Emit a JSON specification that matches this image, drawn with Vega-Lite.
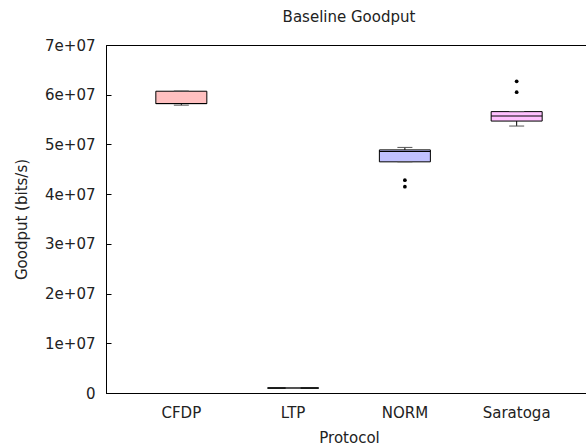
{
  "$schema": "https://vega.github.io/schema/vega-lite/v6.json",
  "width": 486,
  "height": 348,
  "autosize": "none",
  "padding": {"left": 106, "top": 45, "right": 0, "bottom": 54},
  "background": "white",
  "title": {"text": "Baseline Goodput", "font": "DejaVu Sans", "fontSize": 15, "fontWeight": "normal", "color": "#222", "anchor": "middle", "offset": 13},
  "config": {
    "font": "DejaVu Sans",
    "view": {"stroke": "#000", "strokeWidth": 1},
    "axis": {"grid": false, "domainColor": "#000", "tickColor": "#000", "labelColor": "#222", "titleColor": "#222", "labelFont": "DejaVu Sans", "titleFont": "DejaVu Sans", "labelFontSize": 15, "titleFontSize": 15, "titleFontWeight": "normal"}
  },
  "datasets": {
    "boxes": [
      {"protocol": "CFDP", "lower": 57900000, "q1": 58200000, "median": 58250000, "q3": 60700000, "upper": 60750000},
      {"protocol": "LTP", "lower": 900000, "q1": 980000, "median": 1000000, "q3": 1020000, "upper": 1100000},
      {"protocol": "NORM", "lower": 46500000, "q1": 46500000, "median": 48600000, "q3": 48900000, "upper": 49400000},
      {"protocol": "Saratoga", "lower": 53700000, "q1": 54700000, "median": 55700000, "q3": 56600000, "upper": 56600000}
    ],
    "outliers": [
      {"protocol": "NORM", "value": 42800000},
      {"protocol": "NORM", "value": 41500000},
      {"protocol": "Saratoga", "value": 62700000},
      {"protocol": "Saratoga", "value": 60500000}
    ]
  },
  "data": {"name": "boxes"},
  "encoding": {
    "x": {
      "field": "protocol", "type": "nominal", "sort": ["CFDP", "LTP", "NORM", "Saratoga"],
      "scale": {"type": "band", "domain": ["CFDP", "LTP", "NORM", "Saratoga"], "paddingInner": 0, "paddingOuter": 0.174},
      "axis": {"title": "Protocol", "labelAngle": 0, "ticks": false, "labelPadding": 12, "titlePadding": 10, "domain": true}
    }
  },
  "layer": [
    {
      "mark": {"type": "rule", "color": "#000", "strokeWidth": 1},
      "encoding": {
        "y": {"field": "lower", "type": "quantitative", "scale": {"domain": [0, 70000000], "nice": false},
          "axis": {"title": "Goodput (bits/s)", "values": [0, 10000000, 20000000, 30000000, 40000000, 50000000, 60000000, 70000000],
            "labelExpr": "datum.value == 0 ? '0' : replace(format(datum.value, '.0e'), 'e+', 'e+0')",
            "tickSize": -5, "labelPadding": 16, "titlePadding": 15}},
        "y2": {"field": "q1"}
      }
    },
    {
      "mark": {"type": "rule", "color": "#000", "strokeWidth": 1},
      "encoding": {
        "y": {"field": "q3", "type": "quantitative"},
        "y2": {"field": "upper"}
      }
    },
    {
      "mark": {"type": "bar", "size": 51, "stroke": "#000", "strokeWidth": 1, "opacity": 1},
      "encoding": {
        "y": {"field": "q1", "type": "quantitative"},
        "y2": {"field": "q3"},
        "color": {"field": "protocol", "type": "nominal", "legend": null,
          "scale": {"domain": ["CFDP", "LTP", "NORM", "Saratoga"], "range": ["#ffc0c0", "#c0ffc0", "#c0c0ff", "#ffc0ff"]}}
      }
    },
    {
      "mark": {"type": "tick", "size": 51, "thickness": 1, "color": "#000", "opacity": 1},
      "encoding": {"y": {"field": "median", "type": "quantitative"}}
    },
    {
      "mark": {"type": "tick", "size": 15, "thickness": 1, "color": "#555", "opacity": 1},
      "encoding": {"y": {"field": "lower", "type": "quantitative"}}
    },
    {
      "mark": {"type": "tick", "size": 15, "thickness": 1, "color": "#555", "opacity": 1},
      "encoding": {"y": {"field": "upper", "type": "quantitative"}}
    },
    {
      "data": {"name": "outliers"},
      "mark": {"type": "point", "filled": true, "color": "#000", "size": 14, "opacity": 1},
      "encoding": {
        "x": {"field": "protocol", "type": "nominal"},
        "y": {"field": "value", "type": "quantitative"}
      }
    }
  ]
}
